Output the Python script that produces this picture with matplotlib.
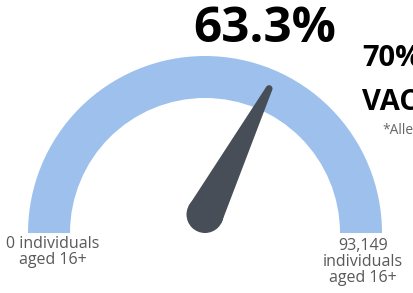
import numpy as np
import matplotlib
matplotlib.use("Agg")
import matplotlib.pyplot as plt
from matplotlib.patches import Wedge, Circle, Polygon

# data
value_pct = 63.3
min_label = "0 individuals\naged 16+"
max_label = "93,149\nindividuals\naged 16+"
headline = "63.3%"
side_texts = ["70%", "VAC", "*Alle"]

W, H = 413, 293
fig = plt.figure(figsize=(W / 100, H / 100), dpi=100)
ax = fig.add_axes([0, 0, 1, 1])
ax.set_xlim(0, W)
ax.set_ylim(0, H)
ax.axis("off")

# gauge geometry (pixels, y up)
cx, cy = 205, 60
r_out, band = 177, 42
ax.add_patch(Wedge((cx, cy), r_out, 0, 180, width=band, facecolor="#9dc1ec", edgecolor="none"))

# needle: tip sits on the ray from the gauge centre, base is a round hub
needle_col = "#474e57"
px, py, pr = cx, cy + 18.5, 18.5
ang = np.radians(180 - value_pct / 100 * 180)
reach = 158
tx, ty = cx + reach * np.cos(ang), cy + reach * np.sin(ang)
d = np.array([tx - px, ty - py])
d = d / np.hypot(*d)
nx, ny = -d[1], d[0]
tip_w = 3.4
poly = [(px + pr * nx, py + pr * ny), (tx + tip_w * nx, ty + tip_w * ny),
        (tx - tip_w * nx, ty - tip_w * ny), (px - pr * nx, py - pr * ny)]
ax.add_patch(Polygon(poly, closed=True, facecolor=needle_col, edgecolor="none"))
ax.add_patch(Circle((px, py), pr, facecolor=needle_col, edgecolor="none"))
ax.add_patch(Circle((tx, ty), tip_w, facecolor=needle_col, edgecolor="none"))

# text
ax.text(265, H - 29, headline, ha="center", va="center", fontsize=35.5,
        fontweight="bold", family="Open Sans", color="black")
ax.text(362, H - 58, side_texts[0], ha="left", va="center", fontsize=21,
        fontweight="bold", family="Open Sans", color="black")
ax.text(362, H - 103, side_texts[1], ha="left", va="center", fontsize=21,
        fontweight="bold", family="Open Sans", color="black")
ax.text(382, H - 131, side_texts[2], ha="left", va="center", fontsize=10,
        family="Open Sans", color="#666666")

ax.text(53, H - 252, min_label, ha="center", va="center", fontsize=11.5,
        family="Open Sans", color="#595959", linespacing=1.0)
ax.text(363, H - 262, max_label, ha="center", va="center", fontsize=11.5,
        family="Open Sans", color="#595959", linespacing=1.0)

fig.savefig("out.png", dpi=100)
